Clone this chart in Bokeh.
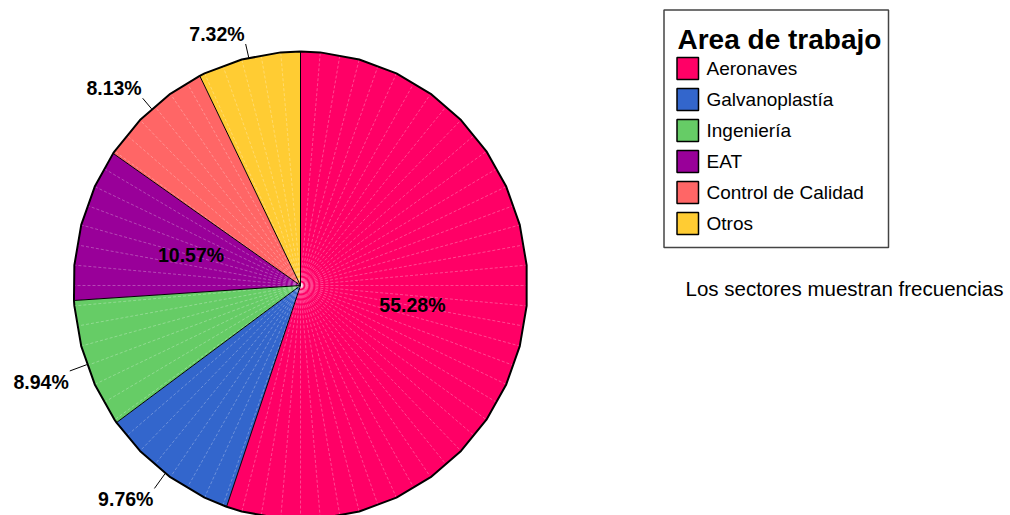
import numpy as np
from bokeh.plotting import figure
from bokeh.models import Range1d
from bokeh.core.properties import value
from bokeh.embed import file_html
from bokeh.resources import INLINE

# ---- data ----
categories = ["Aeronaves", "Galvanoplastía", "Ingeniería", "EAT", "Control de Calidad", "Otros"]
percentages = [55.28, 9.76, 8.94, 10.57, 8.13, 7.32]
colors = ["#FF0066", "#3366CC", "#66CC66", "#990099", "#FF6666", "#FFCC33"]
legend_title = "Area de trabajo"
footnote = "Los sectores muestran frecuencias"

FONT = value("Liberation Sans")

W, H = 1010, 515
p = figure(width=W, height=H, output_backend="svg", toolbar_location=None,
           x_range=Range1d(0, W), y_range=Range1d(H, 0),
           min_border=0, outline_line_color=None)
p.axis.visible = False
p.grid.visible = False
p.background_fill_color = "white"

cx, cy, rx, ry = 300.0, 285.0, 227.0, 234.0


def pt(theta, f=1.0):
    t = np.radians(theta)
    return cx + rx * f * np.sin(t), cy - ry * f * np.cos(t)


cum = np.concatenate([[0.0], np.cumsum(percentages)]) / 100.0 * 360.0
facets = np.arange(5.0, 360.0, 10.0)

# slices
for i, col in enumerate(colors):
    a0, a1 = cum[i], cum[i + 1]
    angs = [a0] + [a for a in facets if a0 < a < a1] + [a1]
    xs = [cx] + [pt(a)[0] for a in angs]
    ys = [cy] + [pt(a)[1] for a in angs]
    p.patch(xs, ys, fill_color=col, line_color=None)

# faint radial dashed lines
rad = np.arange(0.0, 360.0, 5.0)
p.multi_line([[cx, pt(a)[0]] for a in rad], [[cy, pt(a)[1]] for a in rad],
             line_color="white", line_alpha=0.4, line_width=0.7, line_dash="3 2")

# slice boundaries
p.multi_line([[cx, pt(a)[0]] for a in cum[:-1]], [[cy, pt(a)[1]] for a in cum[:-1]],
             line_color="black", line_width=1)

# outer rim
rim = sorted(set(list(facets) + list(cum[:-1])))
rim = rim + [rim[0]]
p.line([pt(a)[0] for a in rim], [pt(a)[1] for a in rim], line_color="black", line_width=2)

# labels
for i, v in enumerate(percentages):
    mid = (cum[i] + cum[i + 1]) / 2.0
    lab = f"{v:.2f}%"
    if v >= 10:
        x, y = pt(mid, 0.5)
        p.text([x], [y], text=[lab], text_font=FONT, text_font_style="bold",
               text_font_size="19.5px", text_align="center", text_baseline="middle",
               text_color="black")
    else:
        upper = np.cos(np.radians(mid)) > 0
        f1 = 1.06 if upper else 1.08
        x0, y0 = pt(mid, 1.0)
        x1, y1 = pt(mid, f1)
        p.line([x0, x1], [y0, y1], line_color="black", line_width=1)
        p.text([x1 - 1], [y1 + (1 if upper else 0)], text=[lab], text_font=FONT,
               text_font_style="bold", text_font_size="19.5px", text_align="right",
               text_baseline="bottom" if upper else "top", text_color="black")

# legend
p.quad(left=[663.5], right=[888], top=[9.5], bottom=[247], fill_color="white",
       line_color="#444444", line_width=1.5)
p.text([677], [39], text=[legend_title], text_font=FONT, text_font_style="bold",
       text_font_size="28px", text_align="left", text_baseline="middle", text_color="black")
for i, (c, col) in enumerate(zip(categories, colors)):
    yc = 68 + i * 31
    p.quad(left=[676.5], right=[698], top=[yc - 11], bottom=[yc + 11], fill_color=col,
           line_color="black", line_width=1.5)
    p.text([706], [yc], text=[c], text_font=FONT, text_font_size="19px",
           text_align="left", text_baseline="middle", text_color="black")

p.text([685], [288], text=[footnote], text_font=FONT, text_font_size="20.5px",
       text_align="left", text_baseline="middle", text_color="black")

open("out.html", "w").write(file_html(p, INLINE))
